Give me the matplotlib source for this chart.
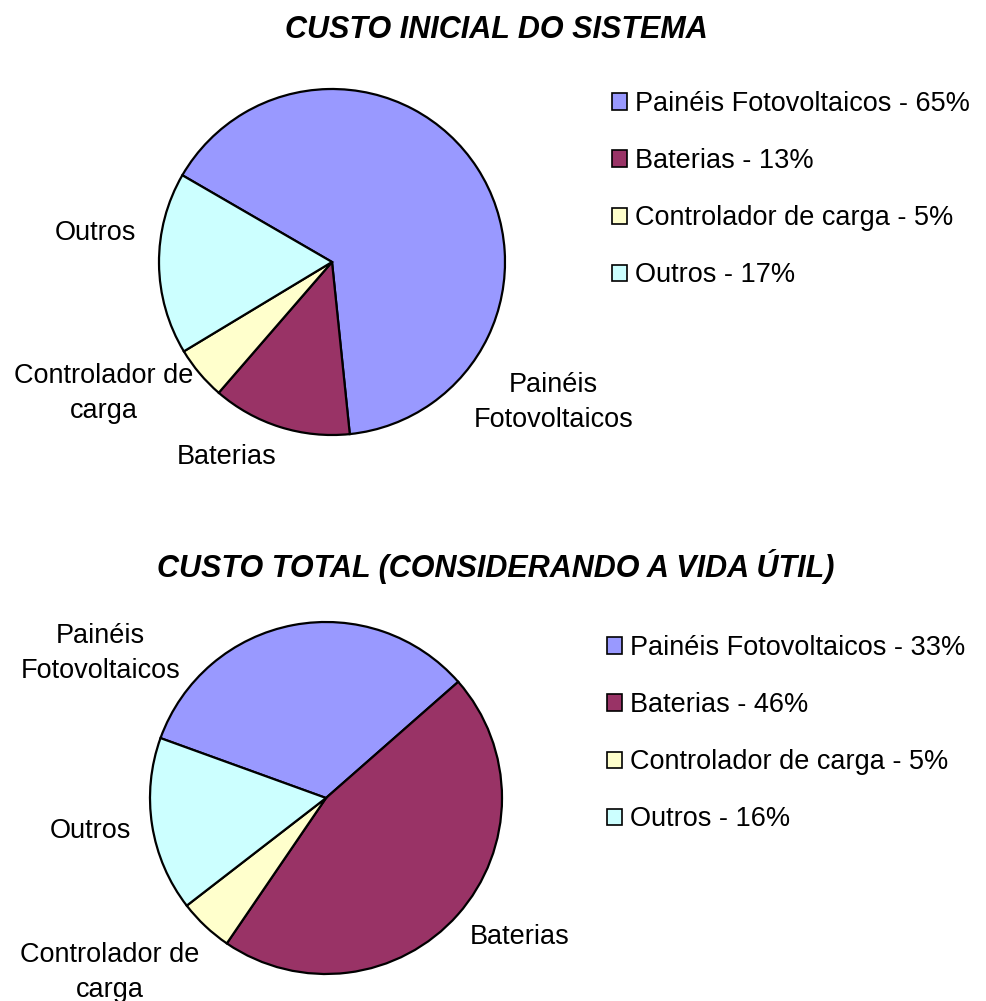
import matplotlib.pyplot as plt
from matplotlib.patches import Patch

plt.rcParams['font.family'] = ['Liberation Sans', 'DejaVu Sans']

# data
categories = ['Painéis Fotovoltaicos', 'Baterias', 'Controlador de carga', 'Outros']
pie_labels = ['Painéis\nFotovoltaicos', 'Baterias', 'Controlador de\ncarga', 'Outros']
inicial = [65, 13, 5, 17]
total = [33, 46, 5, 16]
colors = ['#9999FF', '#993366', '#FFFFCC', '#CCFFFF']

W, H = 987, 1001
fig = plt.figure(figsize=(W / 100, H / 100), dpi=100)


def pie_axes(cx, cy, r, ext=1.5):
    # axes placed so that radius 1 == r pixels, centred at (cx, cy) in image coords
    ax = fig.add_axes([(cx - ext * r) / W, (H - cy - ext * r) / H,
                       2 * ext * r / W, 2 * ext * r / H])
    return ax


def draw(ax, values, start, label_pos, title, title_y, legend_x, legend_y):
    wedges, texts = ax.pie(values, labels=pie_labels, colors=colors,
                           startangle=start, counterclock=False,
                           wedgeprops=dict(edgecolor='black', linewidth=1.6),
                           textprops=dict(fontsize=19.5))
    for t, (x, y) in zip(texts, label_pos):
        t.set_position((x, y))
        t.set_ha('center')
        t.set_va('center')
        t.set_linespacing(1.45)
    ax.set_xlim(-1.5, 1.5)
    ax.set_ylim(-1.5, 1.5)
    ax.axis('off')

    fig.text(496 / W, 1 - title_y / H, title, fontsize=22, fontweight='bold',
             fontstyle='italic', ha='center', va='center')

    handles = [Patch(facecolor=c, edgecolor='black', linewidth=1.2)
               for c in colors]
    labels = ['{} - {}%'.format(n, v) for n, v in zip(categories, values)]
    fig.legend(handles, labels, loc='upper left',
               bbox_to_anchor=(legend_x / W, 1 - legend_y / H),
               frameon=False, fontsize=19.5, handlelength=0.55, handleheight=0.55,
               handletextpad=0.3, labelspacing=1.15, borderpad=0,
               borderaxespad=0)


ax1 = pie_axes(332, 262, 173)
draw(ax1, inicial, 149.9,
     [(1.28, -0.81), (-0.61, -1.13), (-1.32, -0.76), (-1.37, 0.17)],
     'CUSTO INICIAL DO SISTEMA', 30, 612, 91)

ax2 = pie_axes(326, 798, 176)
draw(ax2, total, 160.1,
     [(-1.28, 0.82), (1.10, -0.79), (-1.23, -0.99), (-1.34, -0.19)],
     'CUSTO TOTAL (CONSIDERANDO A VIDA ÚTIL)', 566, 607, 635)

fig.savefig('out.png', dpi=100)
